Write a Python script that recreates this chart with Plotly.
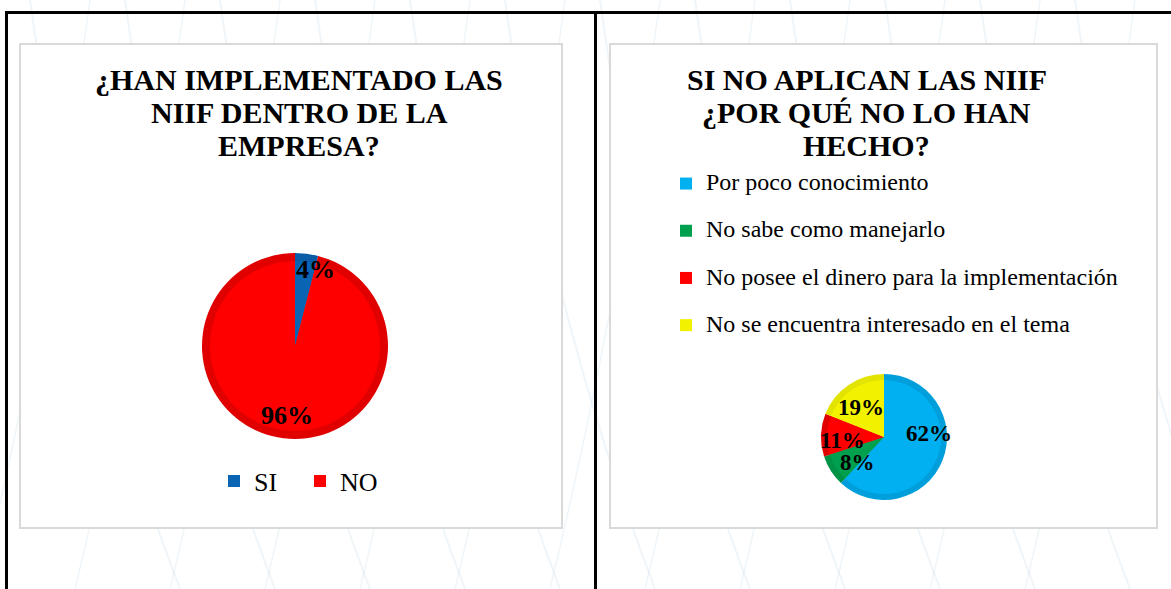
import math
import plotly.graph_objects as go

# ---------------- data ----------------
impl_labels = ["SI", "NO"]
impl_values = [4, 96]

cause_labels = [
    "Por poco conocimiento",
    "No sabe como manejarlo",
    "No posee el dinero para la implementación",
    "No se encuentra interesado en el tema",
]
cause_values = [62, 8, 11, 19]

title_left = ["¿HAN IMPLEMENTADO LAS", "NIIF DENTRO DE LA", "EMPRESA?"]
title_right = ["SI NO APLICAN LAS NIIF", "¿POR QUÉ NO LO HAN", "HECHO?"]

# ---------------- styles ----------------
W, H = 1171, 589
SERIF = "Liberation Serif, Times New Roman, serif"

impl_inner = ["#0A64B4", "#FF0000"]
impl_outer = ["#0A5CA6", "#E00000"]
cause_inner = ["#00B0F0", "#00A04E", "#FF0000", "#F2F200"]
cause_outer = ["#009FDC", "#009245", "#E00000", "#E3E300"]


def fx(x):
    return x / W


def fy(y):
    return 1 - y / H


def dom(cx, cy, r):
    return dict(x=[fx(cx - r), fx(cx + r)], y=[fy(cy + r), fy(cy - r)])


fig = go.Figure()

L_CX, L_CY, L_R = 295, 346, 93
R_CX, R_CY, R_R = 884, 437, 63

fig.add_trace(go.Pie(labels=impl_labels, values=impl_values, sort=False, direction="clockwise",
                     rotation=0, domain=dom(L_CX, L_CY, L_R), marker=dict(colors=impl_outer),
                     textinfo="none", hoverinfo="skip", showlegend=False))
fig.add_trace(go.Pie(labels=impl_labels, values=impl_values, sort=False, direction="clockwise",
                     rotation=0, domain=dom(L_CX, L_CY, L_R - 8), marker=dict(colors=impl_inner),
                     textinfo="none", hoverinfo="label+percent", legend="legend",
                     showlegend=True))

legend2_text = [f"<span style='font-size:24px'>{c}</span><br> " for c in cause_labels]
fig.add_trace(go.Pie(labels=cause_labels, values=cause_values, sort=False, direction="clockwise",
                     rotation=0, domain=dom(R_CX, R_CY, R_R), marker=dict(colors=cause_outer),
                     textinfo="none", hoverinfo="skip", showlegend=False))
fig.add_trace(go.Pie(labels=legend2_text, values=cause_values, sort=False, direction="clockwise",
                     rotation=0, domain=dom(R_CX, R_CY, R_R - 6), marker=dict(colors=cause_inner),
                     textinfo="none", hoverinfo="percent", legend="legend2", showlegend=True))

annotations = []


def pct_labels(values, cx, cy, r, radii, nudges, size):
    total = sum(values)
    start = 0.0
    for v, rf, nd in zip(values, radii, nudges):
        mid = (start + v / 2) / total * 360 + nd
        start += v
        px = cx + rf * r * math.sin(math.radians(mid))
        py = cy - rf * r * math.cos(math.radians(mid))
        annotations.append(dict(x=fx(px), y=fy(py), xref="paper", yref="paper",
                                xanchor="center", yanchor="middle",
                                text=f"{round(v / total * 100)}%", showarrow=False,
                                font=dict(family=SERIF, size=size, color="black", weight="bold")))


pct_labels(impl_values, L_CX, L_CY, L_R, [0.85, 0.75], [8, -1], 26)
pct_labels(cause_values, R_CX, R_CY, R_R, [0.72, 0.58, 0.66, 0.6], [-26, -11, -6, -4], 23)

for cx, lines in [(299, title_left), (867, title_right)]:
    for i, line in enumerate(lines):
        annotations.append(dict(x=fx(cx), y=fy(79 + 33 * i), xref="paper", yref="paper", text=line,
                                xanchor="center", yanchor="middle", showarrow=False,
                                font=dict(family=SERIF, size=30, color="black", weight="bold")))

shapes = []
# faint decorative background strokes
deco = "rgba(210,225,238,0.35)"
for k in range(12):
    x0 = 30 + k * 95
    shapes.append(dict(type="path", xref="paper", yref="paper", layer="below",
                       path=f"M {fx(x0)},{fy(0)} Q {fx(x0 + 40)},{fy(300)} {fx(x0 + 150)},{fy(589)}",
                       line=dict(color=deco, width=2)))
    shapes.append(dict(type="path", xref="paper", yref="paper", layer="below",
                       path=f"M {fx(x0 + 60)},{fy(0)} Q {fx(x0 + 20)},{fy(300)} {fx(x0 - 50)},{fy(589)}",
                       line=dict(color=deco, width=1.5)))
# panels
for (x0, x1) in [(20, 562), (610, 1157)]:
    shapes.append(dict(type="rect", xref="paper", yref="paper", layer="below",
                       x0=fx(x0), x1=fx(x1), y0=fy(528), y1=fy(44),
                       line=dict(color="#D9D9D9", width=2), fillcolor="white"))
# black frame lines
shapes.append(dict(type="line", xref="paper", yref="paper", x0=fx(5), x1=1, y0=fy(12.5), y1=fy(12.5),
                   line=dict(color="black", width=3)))
shapes.append(dict(type="line", xref="paper", yref="paper", x0=fx(6.5), x1=fx(6.5), y0=fy(11), y1=0,
                   line=dict(color="black", width=3)))
shapes.append(dict(type="line", xref="paper", yref="paper", x0=fx(595.5), x1=fx(595.5), y0=fy(11), y1=0,
                   line=dict(color="black", width=3)))

fig.update_layout(
    width=W, height=H,
    margin=dict(l=0, r=0, t=0, b=0),
    paper_bgcolor="white", plot_bgcolor="white",
    annotations=annotations, shapes=shapes,
    legend=dict(orientation="h", x=fx(214), y=fy(481), xanchor="left", yanchor="middle",
                font=dict(family=SERIF, size=26, color="black"), bgcolor="rgba(0,0,0,0)",
                entrywidth=41, entrywidthmode="pixels", traceorder="normal"),
    legend2=dict(orientation="v", x=fx(666), y=fy(166), xanchor="left", yanchor="top",
                 font=dict(family=SERIF, size=17, color="black"), bgcolor="rgba(0,0,0,0)",
                 valign="top", traceorder="normal"),
)

fig.write_html("out.html", config={"displayModeBar": False},
               post_script="document.body.style.margin='0px';document.body.style.overflow='hidden';")
